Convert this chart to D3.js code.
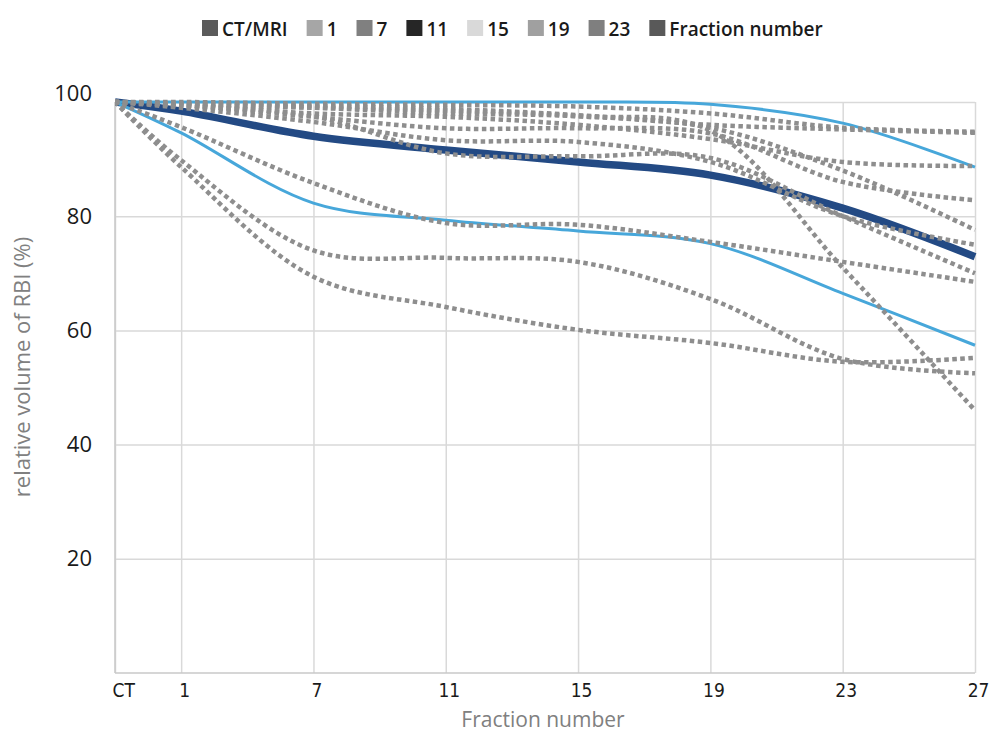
<!DOCTYPE html>
<html>
<head>
<meta charset="utf-8">
<script src="https://cdn.jsdelivr.net/npm/d3@7"></script>
<style>
  body { margin: 0; background: #fff; }
</style>
</head>
<body>
<div id="chart"></div>
<script>
// categories on the x axis (CT + fraction numbers)
var categories = ["CT", "1", "7", "11", "15", "19", "23", "27"];
var yTicks = [20, 40, 60, 80, 100];

// mean and mean +/- SD
var meanValues  = [100, 98.4, 94.0, 91.6, 89.5, 87.2, 81.4, 72.9];
var upperValues = [100, 100, 100, 100, 100, 99.6, 96.3, 88.6];
var lowerValues = [100, 94.6, 82.3, 79.3, 77.4, 75.2, 66.5, 57.4];

// individual patients (dotted)
var patient01 = [100, 100, 99.7, 99.5, 99.2, 98.0, 95.5, 94.8];
var patient02 = [100, 99.8, 99.3, 98.8, 97.7, 96.0, 95.2, 94.6];
var patient03 = [100, 99.5, 98.0, 97.4, 96.0, 93.5, 89.5, 88.8];
var patient04 = [100, 99.5, 97.4, 95.4, 95.4, 94.5, 86.0, 82.8];
var patient05 = [100, 99.7, 99.0, 98.0, 97.5, 95.5, 88.0, 77.6];
var patient06 = [100, 99.0, 96.5, 93.3, 93.0, 89.5, 80.0, 75.0];
var patient07 = [100, 99.5, 99.0, 98.5, 97.5, 95.0, 71.0, 46.0];
var patient08 = [100, 99.3, 97.5, 91.0, 90.5, 90.2, 80.0, 70.0];
var patient09 = [100, 95.6, 85.8, 78.8, 78.5, 75.5, 72.0, 68.5];
var patient10 = [100, 89.8, 74.0, 72.7, 72.0, 65.5, 55.0, 52.5];
var patient11 = [100, 88.6, 69.4, 64.1, 60.1, 57.8, 54.5, 55.2];
var patients = [patient01, patient02, patient03, patient04, patient05, patient06,
                patient07, patient08, patient09, patient10, patient11];

// legend
var legendLabels = ["CT/MRI", "1", "7", "11", "15", "19", "23", "Fraction number"];
var legendColors = ["#5b5b5b", "#a6a6a6", "#808080", "#262626", "#d9d9d9", "#a0a0a0", "#7f7f7f", "#595959"];

//Width and height
var W = 1002, H = 732;
var margin = {left: 115, top: 102, right: 27, bottom: 59};
var w = W - margin.left - margin.right;
var h = H - margin.top - margin.bottom;

var svg = d3.select("#chart")
  .append("svg")
  .attr("width", W)
  .attr("height", H);

// CT sits half a step before fraction 1, then equal steps
function slot(i) { return i === 0 ? 0 : 2 * i - 1; }

var xScale = d3.scaleLinear()
  .domain([0, slot(categories.length - 1)])
  .range([0, w]);

var yScale = d3.scaleLinear()
  .domain([0, 100])
  .range([h, 0]);

var g = svg.append("g")
  .attr("transform", "translate(" + margin.left + "," + margin.top + ")");

// horizontal grid
g.append("g")
  .attr("class", "grid")
  .call(d3.axisLeft(yScale).tickValues(yTicks).tickSize(-w).tickFormat(""))
  .call(function(s) { s.select(".domain").remove(); })
  .selectAll("line")
  .attr("stroke", "#d9d9d9")
  .attr("stroke-width", 1.5);

// vertical grid
g.append("g")
  .attr("class", "grid")
  .attr("transform", "translate(0," + h + ")")
  .call(d3.axisBottom(xScale).tickValues(categories.map(function(d, i) { return slot(i); })).tickSize(-h).tickFormat(""))
  .call(function(s) { s.select(".domain").remove(); })
  .selectAll("line")
  .attr("stroke", "#d9d9d9")
  .attr("stroke-width", 1.5);

// axis lines
g.append("line")
  .attr("x1", 0).attr("x2", 0).attr("y1", 0).attr("y2", h)
  .attr("stroke", "#c8c8c8").attr("stroke-width", 1.5);
g.append("line")
  .attr("x1", 0).attr("x2", w).attr("y1", h).attr("y2", h)
  .attr("stroke", "#c8c8c8").attr("stroke-width", 1.5);

// Y tick labels
g.append("g")
  .call(d3.axisLeft(yScale).tickValues(yTicks).tickSize(0).tickPadding(23))
  .call(function(s) { s.select(".domain").remove(); })
  .selectAll("text")
  .attr("font-family", "'Open Sans', sans-serif")
  .attr("font-size", "22px")
  .attr("fill", "#1a1a1a")
  .attr("dy", function(d) { return d === 100 ? "-0.05em" : "0.32em"; });

// X tick labels
g.append("g")
  .attr("transform", "translate(0," + h + ")")
  .call(d3.axisBottom(xScale)
    .tickValues(categories.map(function(d, i) { return slot(i); }))
    .tickFormat(function(d, i) { return categories[i]; })
    .tickSize(0).tickPadding(11))
  .call(function(s) { s.select(".domain").remove(); })
  .selectAll("text")
  .attr("font-family", "'DejaVu Sans Condensed', 'DejaVu Sans', sans-serif")
  .attr("font-size", "19px")
  .attr("fill", "#1a1a1a")
  .attr("text-anchor", function(d, i) { return i === 0 ? "start" : "middle"; })
  .attr("x", function(d, i) { return i === 0 ? -3 : 3; });

// clip to plot
svg.append("clipPath").attr("id", "plotclip")
  .append("rect")
  .attr("x", 0).attr("y", -6).attr("width", w + 4).attr("height", h + 6);

var line = d3.line()
  .x(function(d, i) { return xScale(slot(i)); })
  .y(function(d) { return yScale(d); })
  .curve(d3.curveCatmullRom.alpha(0.5));

var lines = g.append("g").attr("clip-path", "url(#plotclip)");

// mean line
lines.append("path")
  .datum(meanValues)
  .attr("fill", "none")
  .attr("stroke", "#234a84")
  .attr("stroke-width", 7.5)
  .attr("d", line);

// mean +/- SD
lines.selectAll(".sd")
  .data([upperValues, lowerValues])
  .enter()
  .append("path")
  .attr("class", "sd")
  .attr("fill", "none")
  .attr("stroke", "#47a7da")
  .attr("stroke-width", 3)
  .attr("d", line);

// patients
lines.selectAll(".patient")
  .data(patients)
  .enter()
  .append("path")
  .attr("class", "patient")
  .attr("fill", "none")
  .attr("stroke", "#8e8e8e")
  .attr("stroke-width", 4.5)
  .attr("stroke-dasharray", "4.5,3.5")
  .attr("d", line);

// Axis titles
svg.append("text")
  .attr("x", margin.left + w / 2 - 2)
  .attr("y", 727)
  .attr("text-anchor", "middle")
  .attr("font-family", "'Open Sans', sans-serif")
  .attr("font-size", "21px")
  .attr("fill", "#808080")
  .text("Fraction number");

svg.append("text")
  .attr("transform", "translate(30," + 367 + ") rotate(-90)")
  .attr("text-anchor", "middle")
  .attr("font-family", "'Open Sans', sans-serif")
  .attr("font-size", "22px")
  .attr("fill", "#808080")
  .text("relative volume of RBI (%)");

// Legend
var legend = svg.append("g").attr("class", "legend");
var lx = 202;
legendLabels.forEach(function(label, i) {
  var item = legend.append("g").attr("transform", "translate(" + lx + ",20)");
  item.append("rect")
    .attr("width", 16).attr("height", 16)
    .attr("fill", legendColors[i]);
  var t = item.append("text")
    .attr("x", 20).attr("y", 15.5)
    .attr("font-family", "'Open Sans', sans-serif")
    .attr("font-weight", 600)
    .attr("font-size", "19px")
    .attr("fill", "#1a1a1a")
    .text(label);
  lx += 20 + t.node().getComputedTextLength() + 19;
});
</script>
</body>
</html>
